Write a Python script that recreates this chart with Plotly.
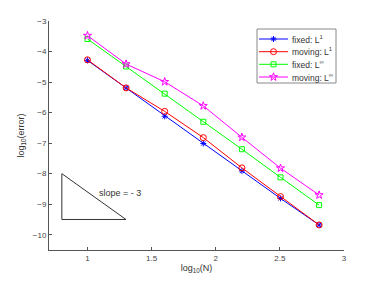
import plotly.graph_objects as go

x = [1.0, 1.301, 1.602, 1.903, 2.204, 2.505, 2.806]
fixed_L1 = [-4.29, -5.19, -6.12, -7.01, -7.91, -8.81, -9.68]
moving_L1 = [-4.27, -5.19, -5.96, -6.82, -7.81, -8.75, -9.68]
fixed_Linf = [-3.59, -4.49, -5.38, -6.30, -7.20, -8.12, -9.03]
moving_Linf = [-3.48, -4.41, -4.99, -5.78, -6.81, -7.82, -8.70]

tri_x = [0.8, 0.8, 1.3, 0.8]
tri_y = [-8.0, -9.5, -9.5, -8.0]

names = ["fixed: L<sup>1</sup>", "moving: L<sup>1</sup>", "fixed: L<sup>∞</sup>", "moving: L<sup>∞</sup>"]
values = [fixed_L1, moving_L1, fixed_Linf, moving_Linf]
colors = ["#0000ff", "#ff0000", "#00ff00", "#ff00ff"]
symbols = ["asterisk-open", "circle-open", "square-open", "star-open"]
sizes = [5, 6, 5, 6]

W, H = 380, 285
L, R, T, B = 49, 36, 21, 35
PX0, PX1, PY0, PY1 = L, W - R, T, H - B

fig = go.Figure()
for name, y, c, sym, sz in zip(names, values, colors, symbols, sizes):
    fig.add_trace(go.Scatter(x=x, y=y, name=name, mode="lines+markers", showlegend=False,
                             line=dict(color=c, width=1),
                             marker=dict(symbol=sym, size=sz, color=c, line=dict(color=c, width=1))))

fig.add_trace(go.Scatter(x=tri_x, y=tri_y, mode="lines", showlegend=False,
                         line=dict(color="#333333", width=1), hoverinfo="skip"))
fig.add_annotation(x=1.075, y=-8.64, text="slope = - 3", showarrow=False, xanchor="left",
                   font=dict(size=9, color="#333333"))

# custom compact legend (pixel overlay axis)
leg_x0, leg_x1, leg_y0, leg_y1 = 257, 336, 29, 83
leg_rows = [39, 51.7, 64.3, 77]
for name, c, sym, sz, ry in zip(names, colors, symbols, sizes, leg_rows):
    fig.add_trace(go.Scatter(x=[259, 288], y=[ry, ry], mode="lines", xaxis="x2", yaxis="y2",
                             showlegend=False, line=dict(color=c, width=1), hoverinfo="skip"))
    fig.add_trace(go.Scatter(x=[273.5], y=[ry], mode="markers", xaxis="x2", yaxis="y2",
                             showlegend=False, hoverinfo="skip",
                             marker=dict(symbol=sym, size=sz, color=c, line=dict(color=c, width=1))))
    fig.add_annotation(x=289.5, y=ry, xref="x2", yref="y2", text=name, showarrow=False,
                       xanchor="left", yanchor="middle", font=dict(size=8.5, color="#333333"))
fig.add_shape(type="rect", xref="x2", yref="y2", x0=leg_x0, x1=leg_x1, y0=leg_y0, y1=leg_y1,
              line=dict(color="#888888", width=1), fillcolor="rgba(255,255,255,0)", layer="below")

axis_common = dict(showline=True, linecolor="#555555", linewidth=1, ticks="inside", ticklen=3,
                   tickcolor="#555555", showgrid=False, zeroline=False,
                   tickfont=dict(size=8, color="#444444"), mirror=False)
fig.update_layout(
    xaxis=dict(range=[0.7, 3], tickvals=[1, 1.5, 2, 2.5, 3], ticktext=["1", "1.5", "2", "2.5", "3"],
               title=dict(text="log<sub>10</sub>(N)", font=dict(size=9, color="#333333"), standoff=3),
               **axis_common),
    yaxis=dict(range=[-10.5, -3], tickvals=[-10, -9, -8, -7, -6, -5, -4, -3],
               title=dict(text="log<sub>10</sub>(error)", font=dict(size=9, color="#333333"), standoff=6),
               **axis_common),
    xaxis2=dict(range=[PX0, PX1], overlaying="x", visible=False, fixedrange=True, anchor="y2"),
    yaxis2=dict(range=[PY1, PY0], overlaying="y", visible=False, fixedrange=True, anchor="x2"),
    width=W, height=H, margin=dict(l=L, r=R, t=T, b=B),
    plot_bgcolor="white", paper_bgcolor="white",
    font=dict(family="Liberation Sans, Arial, sans-serif", size=9, color="#333333"),
    showlegend=False,
)

fig.write_html("out.html", config={"displayModeBar": False},
               post_script="document.body.style.margin='0';")
